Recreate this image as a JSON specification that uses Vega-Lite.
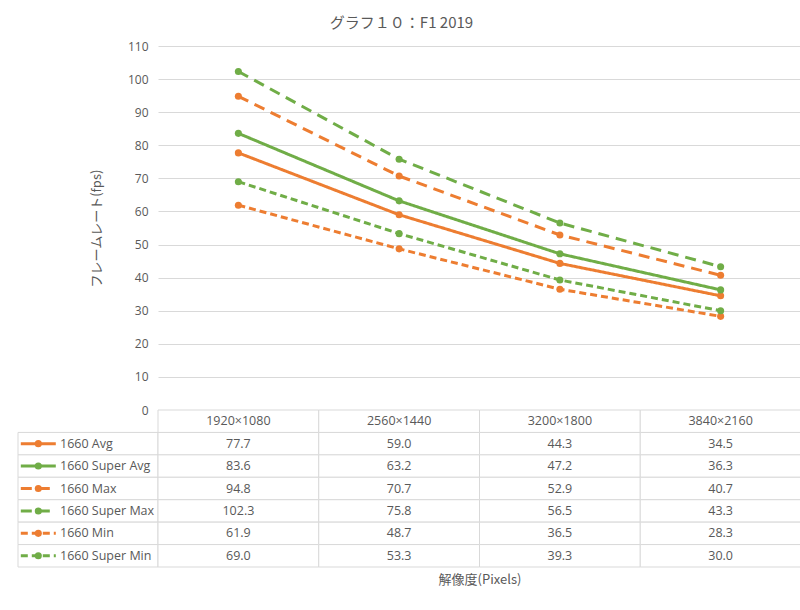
{
  "$schema": "https://vega.github.io/schema/vega-lite/v6.json",
  "padding": {"left": 17, "top": 16, "right": 0, "bottom": 17},
  "background": "white",
  "config": {
    "view": {"stroke": null},
    "font": "Open Sans, Noto Sans CJK JP"
  },
  "title": {"text": "グラフ１０：F1 2019", "fontSize": 15, "fontWeight": "normal", "color": "#595959", "anchor": "middle", "offset": 9, "dx": -8, "font": "Noto Sans CJK JP"},
  "datasets": {
    "fps": [
      {"res": "1920×1080", "series": "1660 Avg", "fps": 77.7},
      {"res": "2560×1440", "series": "1660 Avg", "fps": 59.0},
      {"res": "3200×1800", "series": "1660 Avg", "fps": 44.3},
      {"res": "3840×2160", "series": "1660 Avg", "fps": 34.5},
      {"res": "1920×1080", "series": "1660 Super Avg", "fps": 83.6},
      {"res": "2560×1440", "series": "1660 Super Avg", "fps": 63.2},
      {"res": "3200×1800", "series": "1660 Super Avg", "fps": 47.2},
      {"res": "3840×2160", "series": "1660 Super Avg", "fps": 36.3},
      {"res": "1920×1080", "series": "1660 Max", "fps": 94.8},
      {"res": "2560×1440", "series": "1660 Max", "fps": 70.7},
      {"res": "3200×1800", "series": "1660 Max", "fps": 52.9},
      {"res": "3840×2160", "series": "1660 Max", "fps": 40.7},
      {"res": "1920×1080", "series": "1660 Super Max", "fps": 102.3},
      {"res": "2560×1440", "series": "1660 Super Max", "fps": 75.8},
      {"res": "3200×1800", "series": "1660 Super Max", "fps": 56.5},
      {"res": "3840×2160", "series": "1660 Super Max", "fps": 43.3},
      {"res": "1920×1080", "series": "1660 Min", "fps": 61.9},
      {"res": "2560×1440", "series": "1660 Min", "fps": 48.7},
      {"res": "3200×1800", "series": "1660 Min", "fps": 36.5},
      {"res": "3840×2160", "series": "1660 Min", "fps": 28.3},
      {"res": "1920×1080", "series": "1660 Super Min", "fps": 69.0},
      {"res": "2560×1440", "series": "1660 Super Min", "fps": 53.3},
      {"res": "3200×1800", "series": "1660 Super Min", "fps": 39.3},
      {"res": "3840×2160", "series": "1660 Super Min", "fps": 30.0}
    ]
  },
  "columns": 2,
  "spacing": 0,
  "bounds": "flush",
  "concat": [
    {
      "width": 140,
      "height": 364,
      "data": {"values": [{}]},
      "mark": {"type": "text"},
      "encoding": {"text": {"value": ""}}
    },
    {
      "width": 643,
      "height": 364,
      "data": {"name": "fps"},
      "encoding": {
        "x": {"field": "res", "type": "nominal", "scale": {"type": "point", "padding": 0.5, "domain": ["1920×1080", "2560×1440", "3200×1800", "3840×2160"]}, "axis": null},
        "y": {"field": "fps", "type": "quantitative", "scale": {"domain": [0, 110]},
          "axis": {"values": [0, 10, 20, 30, 40, 50, 60, 70, 80, 90, 100, 110], "title": "フレームレート(fps)", "grid": true, "gridColor": "#d9d9d9", "gridWidth": 1, "domain": false, "ticks": false, "labelPadding": 10, "labelColor": "#595959", "labelFontSize": 12, "labelFont": "Open Sans", "titleFont": "Noto Sans CJK JP", "titleFontSize": 13, "titleFontWeight": "normal", "titleColor": "#595959", "titlePadding": 24}},
        "color": {"field": "series", "type": "nominal", "scale": {"domain": ["1660 Avg", "1660 Super Avg", "1660 Max", "1660 Super Max", "1660 Min", "1660 Super Min"], "range": ["#ED7D31", "#70AD47", "#ED7D31", "#70AD47", "#ED7D31", "#70AD47"]}, "legend": null}
      },
      "layer": [
        {
          "mark": {"type": "line", "strokeWidth": 3},
          "encoding": {
            "strokeDash": {"field": "series", "type": "nominal", "scale": {"domain": ["1660 Avg", "1660 Super Avg", "1660 Max", "1660 Super Max", "1660 Min", "1660 Super Min"], "range": [[1, 0], [1, 0], [11, 7], [11, 7], [7, 4], [7, 4]]}, "legend": null}
          }
        },
        {"mark": {"type": "point", "filled": true, "size": 50, "opacity": 1}}
      ]
    },
    {
      "width": 140,
      "height": 157,
      "data": {"name": "fps"},
      "transform": [{"aggregate": [{"op": "count", "as": "n"}], "groupby": ["series"]}],
      "encoding": {
        "y": {"field": "series", "type": "nominal", "scale": {"domain": ["hdr", "1660 Avg", "1660 Super Avg", "1660 Max", "1660 Super Max", "1660 Min", "1660 Super Min"], "paddingInner": 0, "paddingOuter": 0}, "axis": null}
      },
      "layer": [
        {
          "mark": {"type": "rect", "fill": "white", "stroke": "#d9d9d9", "strokeWidth": 1},
          "encoding": {
            "x": {"datum": 0, "type": "quantitative", "scale": {"domain": [0, 1]}, "axis": null},
            "x2": {"datum": 1}
          }
        },
        {
          "mark": {"type": "rule", "strokeWidth": 3},
          "encoding": {
            "x": {"datum": 0.02, "type": "quantitative", "scale": {"domain": [0, 1]}, "axis": null},
            "x2": {"datum": 0.27},
            "color": {"field": "series", "type": "nominal", "scale": {"domain": ["1660 Avg", "1660 Super Avg", "1660 Max", "1660 Super Max", "1660 Min", "1660 Super Min"], "range": ["#ED7D31", "#70AD47", "#ED7D31", "#70AD47", "#ED7D31", "#70AD47"]}, "legend": null},
            "strokeDash": {"field": "series", "type": "nominal", "scale": {"domain": ["1660 Avg", "1660 Super Avg", "1660 Max", "1660 Super Max", "1660 Min", "1660 Super Min"], "range": [[1, 0], [1, 0], [11, 7], [11, 7], [7, 4], [7, 4]]}, "legend": null}
          }
        },
        {
          "mark": {"type": "point", "filled": true, "size": 50, "opacity": 1},
          "encoding": {
            "x": {"datum": 0.145, "type": "quantitative", "scale": {"domain": [0, 1]}, "axis": null},
            "color": {"field": "series", "type": "nominal", "scale": {"domain": ["1660 Avg", "1660 Super Avg", "1660 Max", "1660 Super Max", "1660 Min", "1660 Super Min"], "range": ["#ED7D31", "#70AD47", "#ED7D31", "#70AD47", "#ED7D31", "#70AD47"]}, "legend": null}
          }
        },
        {
          "mark": {"type": "text", "align": "left", "baseline": "middle", "fontSize": 12.5, "color": "#595959", "font": "Open Sans"},
          "encoding": {
            "x": {"datum": 0.3, "type": "quantitative", "scale": {"domain": [0, 1]}, "axis": null},
            "text": {"field": "series", "type": "nominal"}
          }
        }
      ]
    },
    {
      "width": 643,
      "height": 157,
      "data": {"name": "fps"},
      "encoding": {
        "x": {"field": "res", "type": "nominal", "scale": {"domain": ["1920×1080", "2560×1440", "3200×1800", "3840×2160"], "paddingInner": 0, "paddingOuter": 0},
          "axis": {"title": "解像度(Pixels)", "labels": false, "ticks": false, "domain": false, "titlePadding": 6, "titleFont": "Noto Sans CJK JP", "titleFontSize": 13, "titleFontWeight": "normal", "titleColor": "#595959"}}
      },
      "layer": [
        {
          "mark": {"type": "rect", "fill": "white", "stroke": "#d9d9d9", "strokeWidth": 1},
          "encoding": {"y": {"field": "series", "type": "nominal", "scale": {"domain": ["hdr", "1660 Avg", "1660 Super Avg", "1660 Max", "1660 Super Max", "1660 Min", "1660 Super Min"], "paddingInner": 0, "paddingOuter": 0}, "axis": null}}
        },
        {
          "mark": {"type": "text", "baseline": "middle", "fontSize": 12.5, "color": "#595959", "font": "Open Sans"},
          "encoding": {
            "y": {"field": "series", "type": "nominal", "axis": null},
            "text": {"field": "fps", "type": "quantitative", "format": ".1f"}
          }
        },
        {
          "transform": [{"aggregate": [{"op": "count", "as": "n"}], "groupby": ["res"]}],
          "mark": {"type": "rect", "fill": "white", "stroke": "#d9d9d9", "strokeWidth": 1},
          "encoding": {"y": {"datum": "hdr", "type": "nominal", "axis": null}}
        },
        {
          "transform": [{"aggregate": [{"op": "count", "as": "n"}], "groupby": ["res"]}],
          "mark": {"type": "text", "baseline": "middle", "fontSize": 12.5, "color": "#595959", "font": "Open Sans"},
          "encoding": {
            "y": {"datum": "hdr", "type": "nominal", "axis": null},
            "text": {"field": "res", "type": "nominal"}
          }
        }
      ]
    }
  ]
}
